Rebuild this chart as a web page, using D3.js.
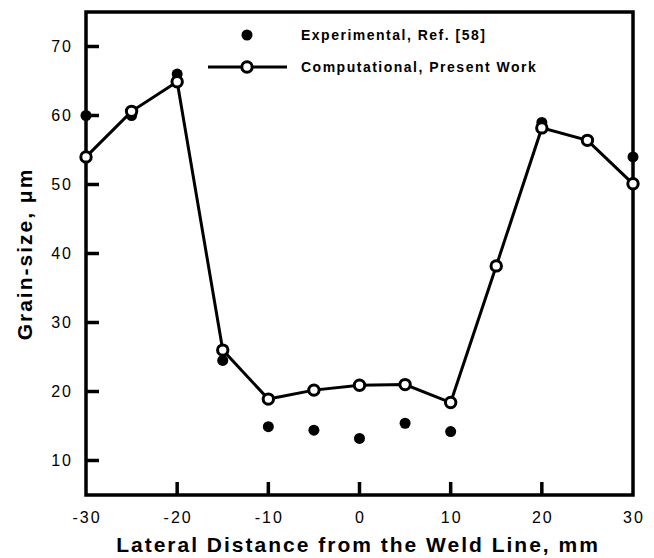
<!DOCTYPE html>
<html>
<head>
<meta charset="utf-8">
<script src="https://cdn.jsdelivr.net/npm/d3@7"></script>
<style>
  body { margin: 0; background: #fff; }
  text { font-family: "Liberation Sans", Arial, sans-serif; fill: #000; }
</style>
</head>
<body>
<div id="chart"></div>
<script>
// data
var distance = [-30, -25, -20, -15, -10, -5, 0, 5, 10, 15, 20, 25, 30];
var computational = [54, 60.6, 64.9, 26, 18.9, 20.2, 20.9, 21, 18.4, 38.2, 58.2, 56.4, 50.1];
var expX = [-30, -25, -20, -15, -10, -5, 0, 5, 10, 20, 30];
var experimental = [60, 60, 66, 24.5, 14.9, 14.4, 13.2, 15.4, 14.2, 59, 54];
var xTicks = [-30, -20, -10, 0, 10, 20, 30];
var yTicks = [10, 20, 30, 40, 50, 60, 70];

var width = 654, height = 558;
var margin = {left: 86, right: 21, top: 12, bottom: 63};

var svg = d3.select("#chart").append("svg")
    .attr("width", width).attr("height", height);

var x = d3.scaleLinear().domain([-30, 30]).range([margin.left, width - margin.right]);
var y = d3.scaleLinear().domain([5, 75]).range([height - margin.bottom, margin.top]);

// frame
svg.append("rect")
    .attr("x", x(-30)).attr("y", y(75))
    .attr("width", x(30) - x(-30)).attr("height", y(5) - y(75))
    .attr("fill", "none").attr("stroke", "#000").attr("stroke-width", 3.5);

// y ticks (inside) + labels
svg.selectAll("line.ytick").data(yTicks).enter().append("line")
    .attr("class", "ytick")
    .attr("x1", x(-30)).attr("x2", x(-30) + 13)
    .attr("y1", function(d) { return y(d); }).attr("y2", function(d) { return y(d); })
    .attr("stroke", "#000").attr("stroke-width", 3.5);
svg.selectAll("text.ylab").data(yTicks).enter().append("text")
    .attr("class", "ylab")
    .attr("x", x(-30) - 13).attr("y", function(d) { return y(d); })
    .attr("dy", "0.36em").attr("text-anchor", "end")
    .style("font-size", "16px").style("letter-spacing", "2px")
    .text(function(d) { return d; });

// x ticks (inside) + labels
svg.selectAll("line.xtick").data(xTicks.slice(1, -1)).enter().append("line")
    .attr("class", "xtick")
    .attr("y1", y(5)).attr("y2", y(5) - 13)
    .attr("x1", function(d) { return x(d); }).attr("x2", function(d) { return x(d); })
    .attr("stroke", "#000").attr("stroke-width", 3.5);
svg.selectAll("text.xlab").data(xTicks).enter().append("text")
    .attr("class", "xlab")
    .attr("x", function(d) { return x(d) + 1; }).attr("y", 523)
    .attr("text-anchor", "middle")
    .style("font-size", "16px").style("letter-spacing", "2px")
    .text(function(d) { return d; });

// axis titles
svg.append("text")
    .attr("x", 358).attr("y", 552)
    .attr("text-anchor", "middle")
    .style("font-size", "21px").style("font-weight", "bold").style("letter-spacing", "2px")
    .text("Lateral Distance from the Weld Line, mm");
svg.append("text")
    .attr("transform", "translate(32,254) rotate(-90)")
    .attr("text-anchor", "middle")
    .style("font-size", "21px").style("font-weight", "bold").style("letter-spacing", "2px")
    .text("Grain-size, μm");

// experimental points
svg.selectAll("circle.exp").data(expX).enter().append("circle")
    .attr("class", "exp")
    .attr("cx", function(d) { return x(d); })
    .attr("cy", function(d, i) { return y(experimental[i]); })
    .attr("r", 5.5).attr("fill", "#000");

// computational line + open circles
var line = d3.line()
    .x(function(d) { return x(d); })
    .y(function(d, i) { return y(computational[i]); });
svg.append("path").datum(distance)
    .attr("d", line).attr("fill", "none")
    .attr("stroke", "#000").attr("stroke-width", 3);
svg.selectAll("circle.comp").data(distance).enter().append("circle")
    .attr("class", "comp")
    .attr("cx", function(d) { return x(d); })
    .attr("cy", function(d, i) { return y(computational[i]); })
    .attr("r", 5.2).attr("fill", "#fff")
    .attr("stroke", "#000").attr("stroke-width", 3);

// legend
svg.append("circle").attr("cx", 247).attr("cy", 35).attr("r", 5.5).attr("fill", "#000");
svg.append("text").attr("x", 301).attr("y", 35).attr("dy", "0.36em")
    .style("font-size", "14px").style("font-weight", "bold").style("letter-spacing", "1.5px")
    .text("Experimental, Ref. [58]");
svg.append("line").attr("x1", 208).attr("x2", 287).attr("y1", 67).attr("y2", 67)
    .attr("stroke", "#000").attr("stroke-width", 3);
svg.append("circle").attr("cx", 247).attr("cy", 67).attr("r", 5.2)
    .attr("fill", "#fff").attr("stroke", "#000").attr("stroke-width", 3);
svg.append("text").attr("x", 301).attr("y", 67).attr("dy", "0.36em")
    .style("font-size", "14px").style("font-weight", "bold").style("letter-spacing", "1.5px")
    .text("Computational, Present Work");
</script>
</body>
</html>
